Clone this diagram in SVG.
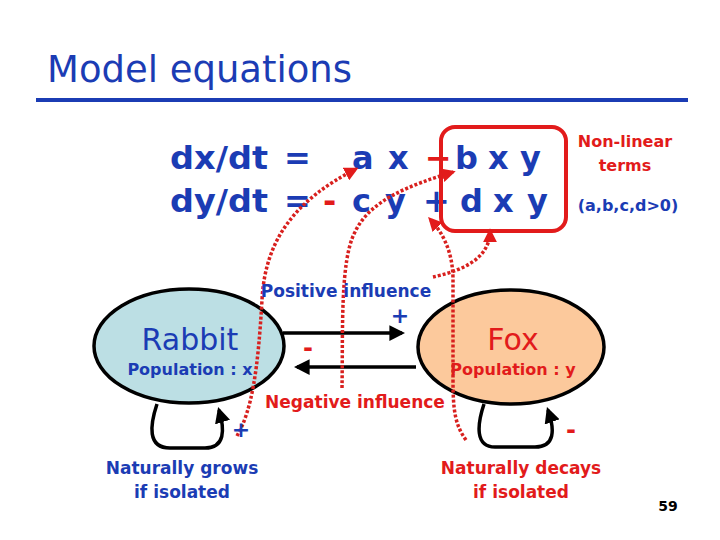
<svg xmlns="http://www.w3.org/2000/svg" width="720" height="540" viewBox="0 0 720 540">
<style>
text{font-family:"Comic Sans MS","DejaVu Sans",sans-serif}
.b{fill:#1b3cb4}
.r{fill:#e21b1b}
.eq{font-size:32px;font-weight:bold}
.sm{font-size:16px;font-weight:bold}
.lbl{font-size:17px;font-weight:bold}
.node{stroke:#000;stroke-width:3.5}
.conn{stroke:#000;stroke-width:3.5;fill:none}
.dot{stroke:#d8201e;stroke-width:3.5;fill:none;stroke-dasharray:3 2}
</style>
<defs>
<marker id="ah" viewBox="0 0 10 10" refX="8" refY="5" markerWidth="4.5" markerHeight="4.5" orient="auto" markerUnits="strokeWidth"><path d="M0,0 L10,5 L0,10 z" fill="#000"/></marker>
<marker id="rh" viewBox="0 0 10 10" refX="8" refY="5" markerWidth="4" markerHeight="4" orient="auto" markerUnits="strokeWidth"><path d="M0,0 L10,5 L0,10 z" fill="#e21b1b"/></marker>
</defs>
<rect width="720" height="540" fill="#fff"/>
<g id="title">
<text x="47" y="82" class="b" font-size="38" textLength="305" lengthAdjust="spacingAndGlyphs">Model equations</text>
<rect x="36" y="98" width="652" height="4" fill="#1b3cb4"/>
</g>
<g id="equations" class="eq">
<text x="170" y="169" class="b" textLength="98" lengthAdjust="spacingAndGlyphs">dx/dt</text>
<text x="284" y="169" class="b">=</text>
<text x="352" y="169" class="b">a</text>
<text x="388" y="169" class="b">x</text>
<text x="425" y="169" class="r">−</text>
<text x="455" y="169" class="b">b</text>
<text x="488" y="169" class="b">x</text>
<text x="520" y="169" class="b">y</text>
<text x="170" y="212" class="b" textLength="98" lengthAdjust="spacingAndGlyphs">dy/dt</text>
<text x="284" y="212" class="b">=</text>
<text x="323" y="212" class="r">-</text>
<text x="352" y="212" class="b">c</text>
<text x="385" y="212" class="b">y</text>
<text x="423" y="212" class="b">+</text>
<text x="460" y="212" class="b">d</text>
<text x="493" y="212" class="b">x</text>
<text x="527" y="212" class="b">y</text>
</g>
<g id="nonlinear">
<rect x="441" y="127" width="125" height="104" rx="14" fill="none" stroke="#e21b1b" stroke-width="4"/>
<text x="625" y="147" class="r sm" text-anchor="middle">Non-linear</text>
<text x="625" y="171" class="r sm" text-anchor="middle">terms</text>
<text x="628" y="211" class="b sm" text-anchor="middle">(a,b,c,d&gt;0)</text>
</g>
<g id="rabbit">
<ellipse cx="189" cy="346" rx="95" ry="57" fill="#bcdfe4" class="node"/>
<text x="190" y="350" class="b" font-size="30" text-anchor="middle">Rabbit</text>
<text x="190" y="375" class="b sm" text-anchor="middle">Population : x</text>
</g>
<g id="fox">
<ellipse cx="511" cy="347" rx="93" ry="57" fill="#fcc99c" class="node"/>
<text x="513" y="350" class="r" font-size="30" text-anchor="middle">Fox</text>
<text x="513" y="375" class="r sm" text-anchor="middle">Population : y</text>
</g>
<g id="connectors">
<path d="M283 333 L402 333" class="conn" marker-end="url(#ah)"/>
<path d="M416 367 L297 367" class="conn" marker-end="url(#ah)"/>
<path d="M157 404 C150 425 147 448 170 448 L205 448 C225 448 225 430 219 410" class="conn" marker-end="url(#ah)"/>
<path d="M484 404 C477 425 475 447 495 447 L535 447 C555 447 555 430 548 410" class="conn" marker-end="url(#ah)"/>
<path d="M237 436 C252 410 258 370 262 300 C265 240 295 200 356 169" class="dot" marker-end="url(#rh)"/>
<path d="M342 388 C343 330 340 260 355 232 C370 200 410 185 453 172" class="dot" marker-end="url(#rh)"/>
<path d="M466 440 C455 425 453 410 453 380 L453 280 C453 255 445 235 430 219" class="dot" marker-end="url(#rh)"/>
<path d="M433 277 C455 272 490 262 490 231" class="dot" marker-end="url(#rh)"/>
</g>
<g id="labels">
<text x="346" y="297" class="b lbl" text-anchor="middle">Positive influence</text>
<text x="400" y="323" class="b" font-size="22" font-weight="bold" text-anchor="middle">+</text>
<text x="308" y="356" class="r" font-size="24" font-weight="bold" text-anchor="middle">-</text>
<text x="355" y="408" class="r lbl" text-anchor="middle">Negative influence</text>
<text x="241" y="437" class="b" font-size="22" font-weight="bold" text-anchor="middle">+</text>
<text x="571" y="438" class="r" font-size="24" font-weight="bold" text-anchor="middle">-</text>
<text x="182" y="474" class="b lbl" text-anchor="middle">Naturally grows</text>
<text x="182" y="498" class="b lbl" text-anchor="middle">if isolated</text>
<text x="521" y="474" class="r lbl" text-anchor="middle">Naturally decays</text>
<text x="521" y="498" class="r lbl" text-anchor="middle">if isolated</text>
<text x="668" y="511" font-size="14" font-weight="bold" text-anchor="middle" fill="#000">59</text>
</g>
</svg>
